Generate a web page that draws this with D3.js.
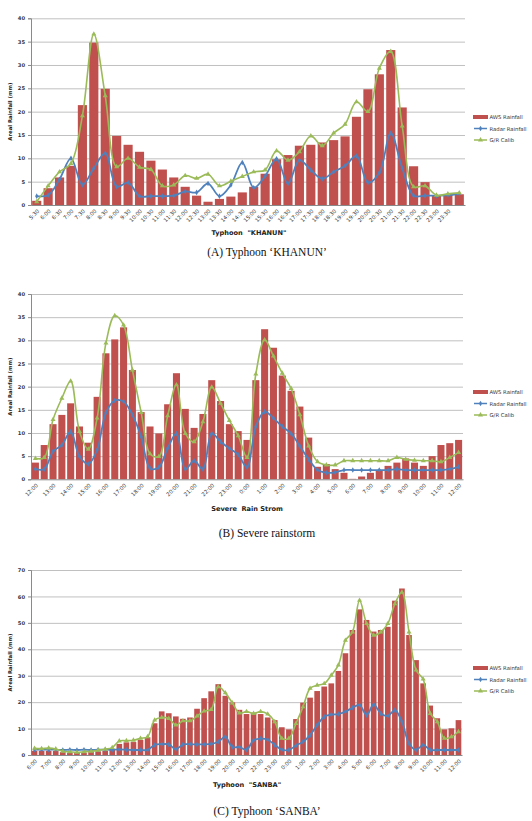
<!DOCTYPE html>
<html>
<head>
<meta charset="utf-8">
<script src="https://cdn.jsdelivr.net/npm/d3@7"></script>
<style>
  body { margin: 0; background: #fff; overflow: hidden; }
  svg { display: block; }
</style>
</head>
<body>
<div id="container"></div>
<script>
/**
 * DATA
 * */
const khanunTimes = ["5:30","6:00","6:30","7:00","7:30","8:00","8:30","9:00","9:30","10:00","10:30","11:00","11:30","12:00","12:30","13:00","13:30","14:00","14:30","15:00","15:30","16:00","16:30","17:00","17:30","18:00","18:30","19:00","19:30","20:00","20:30","21:00","21:30","22:00","22:30","23:00","23:30",""]
const khanunAws = [0.9,3.6,5.9,8.4,21.4,34.8,24.9,14.8,12.9,11.4,9.5,7.6,5.9,3.9,2.0,0.7,1.3,1.8,2.7,3.9,6.7,9.8,10.7,12.7,12.9,13.4,13.9,14.7,18.9,24.8,28.0,33.2,20.9,8.3,4.9,2.1,2.3,2.3]
const khanunRadar = [1.9,2.1,5.5,10.0,4.3,7.9,11.1,3.9,4.8,1.9,1.9,1.9,2.0,2.9,2.7,4.6,1.9,4.3,9.1,3.7,6.2,9.9,4.6,9.6,7.5,5.6,7.1,8.4,10.5,4.8,6.9,15.4,7.9,2.0,2.0,2.0,2.1,2.4]
const khanunGR = [0.7,4.1,7.1,8.9,19.1,36.6,23.4,8.2,10.0,8.1,7.6,4.1,4.3,6.3,5.7,6.6,4.1,5.1,6.1,7.1,7.5,11.6,9.6,11.4,14.8,12.7,15.4,17.3,22.1,20.0,29.3,32.9,16.9,3.9,4.1,2.1,2.4,2.6]

const stormTimes = ["12:00","12:30","13:00","13:30","14:00","14:30","15:00","15:30","16:00","16:30","17:00","17:30","18:00","18:30","19:00","19:30","20:00","20:30","21:00","21:30","22:00","22:30","23:00","23:30","0:00","0:30","1:00","1:30","2:00","2:30","3:00","3:30","4:00","4:30","5:00","5:30","6:00","6:30","7:00","7:30","8:00","8:30","9:00","9:30","10:00","10:30","11:00","11:30","12:00"]
const stormAws = [3.6,7.4,11.9,13.9,16.4,11.4,7.9,17.8,27.2,30.2,32.8,23.6,14.5,11.4,9.9,16.2,22.9,15.2,11.1,14.1,21.4,16.9,11.9,10.4,8.5,21.4,32.4,28.4,22.4,19.1,15.7,9.0,2.7,3.3,2.2,1.4,0.1,0.6,1.4,2.0,2.9,3.6,4.5,3.6,2.9,5.0,7.4,7.8,8.5]
const stormRadar = [2.2,2.2,6.0,7.4,10.3,4.9,3.3,6.3,14.4,17.0,16.8,13.9,9.2,2.4,2.6,6.7,9.9,2.2,4.0,2.2,9.9,8.1,6.7,5.3,2.6,11.4,14.6,13.2,11.4,9.9,7.1,4.3,2.0,1.4,1.5,2.0,2.0,2.0,2.0,2.0,2.0,2.2,2.0,2.0,2.0,2.0,2.0,2.2,2.7]
const stormGR = [4.5,4.7,12.9,17.5,21.2,10.3,6.5,13.2,29.4,35.3,33.3,23.6,14.4,5.5,4.9,13.7,20.4,9.9,8.1,12.4,19.9,16.4,12.7,9.4,4.7,22.7,30.1,26.6,22.9,19.6,13.9,7.2,3.8,3.1,3.1,4.0,4.0,4.0,4.0,4.0,4.0,4.7,4.3,4.1,4.0,4.0,3.8,4.7,5.8]

const sanbaTimes = ["6:00","6:30","7:00","7:30","8:00","8:30","9:00","9:30","10:00","10:30","11:00","11:30","12:00","12:30","13:00","13:30","14:00","14:30","15:00","15:30","16:00","16:30","17:00","17:30","18:00","18:30","19:00","19:30","20:00","20:30","21:00","21:30","22:00","22:30","23:00","23:30","0:00","0:30","1:00","1:30","2:00","2:30","3:00","3:30","4:00","4:30","5:00","5:30","6:00","6:30","7:00","7:30","8:00","8:30","9:00","9:30","10:00","10:30","11:00","11:30","12:00"]
const sanbaAws = [1.6,1.6,1.6,1.5,1.1,0.9,0.9,0.9,1.1,1.4,1.6,2.3,4.2,4.8,4.9,5.7,6.7,12.0,16.5,15.8,14.6,13.7,14.2,17.5,21.5,24.1,26.8,22.4,19.9,17.1,15.5,16.0,15.5,14.2,13.2,10.5,9.7,13.6,19.8,21.7,24.2,25.9,27.1,31.8,38.5,47.3,55.1,51.1,46.7,47.3,48.5,58.4,63.0,45.4,35.9,27.1,18.7,13.9,9.7,10.1,13.2]
const sanbaRadar = [2.0,2.0,2.0,2.0,1.9,2.0,1.9,2.0,1.9,2.0,2.0,2.0,2.1,2.0,1.9,1.9,1.9,3.8,4.1,4.0,2.2,4.0,4.1,4.0,4.0,4.2,5.0,6.9,3.0,3.0,2.0,5.6,6.2,5.8,3.8,2.0,1.9,3.6,5.0,7.5,11.3,14.5,15.3,15.5,16.4,17.9,18.9,15.1,19.1,15.7,14.8,17.0,12.6,4.4,1.9,3.8,1.9,1.9,1.9,1.9,1.9]
const sanbaGR = [2.5,2.4,2.6,2.3,1.4,1.2,1.0,1.2,1.4,1.8,2.2,2.8,5.3,5.4,5.6,6.3,6.9,13.2,14.2,13.8,11.3,12.9,12.9,14.7,16.6,17.2,25.8,23.5,19.7,15.9,16.4,15.7,16.4,15.5,12.6,6.3,6.3,11.9,18.2,25.2,26.4,27.0,30.2,34.0,43.4,46.5,58.5,49.7,45.3,46.5,49.7,57.2,61.6,46.5,32.1,28.7,15.7,12.6,6.3,6.9,8.8]

const legendNames = ["AWS Rainfall", "Radar Rainfall", "G/R Calib"]

/**
 * CONSTANTS
 * */
const W = 532, H = 821
const red = "#C0504D", blue = "#4F81BD", green = "#9BBB59"

const panels = [
  { times: khanunTimes, aws: khanunAws, radar: khanunRadar, gr: khanunGR, showAll: true,
    top: 18.3, bottom: 205, left: 31, right: 465, yMax: 40, yStep: 5,
    legendY: 117, xTitle: 'Typhoon  "KHANUN"', xTitleY: 234.5, xTitleX: 249,
    caption: "(A) Typhoon \u2018KHANUN\u2019", captionY: 256 },
  { times: stormTimes, aws: stormAws, radar: stormRadar, gr: stormGR, showAll: false,
    top: 294, bottom: 479.3, left: 31, right: 463, yMax: 40, yStep: 5,
    legendY: 392, xTitle: "Severe  Rain Strom", xTitleY: 510.5, xTitleX: 247,
    caption: "(B) Severe rainstorm", captionY: 537 },
  { times: sanbaTimes, aws: sanbaAws, radar: sanbaRadar, gr: sanbaGR, showAll: false,
    top: 570, bottom: 755, left: 31, right: 462, yMax: 70, yStep: 10,
    legendY: 668, xTitle: 'Typhoon  "SANBA"', xTitleY: 786.5, xTitleX: 247,
    caption: "(C) Typhoon \u2018SANBA\u2019", captionY: 815 }
]

const svg = d3.select("#container").append("svg")
  .attr("width", W).attr("height", H)

panels.forEach(drawPanel)

function drawPanel(p) {
  const g = svg.append("g")
  const n = p.times.length

  // Scales
  const x = d3.scaleBand()
    .domain(d3.range(n))
    .range([p.left, p.right])
    .paddingInner(0.2).paddingOuter(0.1)
  const y = d3.scaleLinear()
    .domain([0, p.yMax])
    .range([p.bottom, p.top])

  const cx = i => x(i) + x.bandwidth() / 2

  // gridlines
  g.append("g")
    .attr("transform", `translate(${p.left},0)`)
    .call(d3.axisLeft(y).tickValues(d3.range(p.yStep, p.yMax + 0.01, p.yStep))
      .tickSize(-(p.right - p.left)).tickFormat(""))
    .call(a => a.select(".domain").remove())
    .call(a => a.selectAll("line").attr("stroke", "#c0c0c0").attr("stroke-width", 1))

  // y axis
  g.append("g")
    .attr("transform", `translate(${p.left},0)`)
    .call(d3.axisLeft(y).tickValues(d3.range(0, p.yMax + 0.01, p.yStep)).tickSize(3).tickPadding(3))
    .call(a => a.select(".domain").attr("stroke", "#8a8a8a"))
    .call(a => a.selectAll("line").attr("stroke", "#8a8a8a"))
    .call(a => a.selectAll("text")
      .attr("font-family", "DejaVu Sans").attr("font-weight", "bold")
      .attr("font-size", 5.2).attr("fill", "#333"))

  // bars
  g.append("g").selectAll("rect")
    .data(p.aws)
    .join("rect")
    .attr("x", (d, i) => x(i))
    .attr("width", x.bandwidth())
    .attr("y", d => y(d))
    .attr("height", d => y(0) - y(d))
    .attr("fill", red)

  // x axis
  const xAxis = g.append("g")
    .attr("transform", `translate(0,${p.bottom})`)
    .call(d3.axisBottom(x).tickSize(0).tickFormat(i => {
      const t = p.times[i]
      return (p.showAll || t.endsWith(":00")) ? t : ""
    }))
  xAxis.select(".domain").attr("stroke", "#8a8a8a")
  xAxis.selectAll("text")
    .attr("font-family", "DejaVu Sans").attr("font-size", 5.4).attr("fill", "#333")
    .attr("text-anchor", "end")
    .attr("dy", 0).attr("y", 0)
    .attr("transform", "translate(3,6.5) rotate(-45)")

  // lines
  const line = d3.line()
    .x((d, i) => cx(i))
    .y(d => y(d))
    .curve(d3.curveCatmullRom.alpha(0.5))

  g.append("path").datum(p.radar)
    .attr("d", line).attr("fill", "none")
    .attr("stroke", blue).attr("stroke-width", 1.8)
  g.append("g").selectAll("path")
    .data(p.radar).join("path")
    .attr("transform", (d, i) => `translate(${cx(i)},${y(d)})`)
    .attr("d", d3.symbol(d3.symbolDiamond, 9))
    .attr("fill", blue)

  g.append("path").datum(p.gr)
    .attr("d", line).attr("fill", "none")
    .attr("stroke", green).attr("stroke-width", 1.6)
  g.append("g").selectAll("path")
    .data(p.gr).join("path")
    .attr("transform", (d, i) => `translate(${cx(i)},${y(d)})`)
    .attr("d", d3.symbol(d3.symbolTriangle, 11))
    .attr("fill", green)

  // y title
  g.append("text")
    .attr("transform", `translate(11.5,${(p.top + p.bottom) / 2}) rotate(-90)`)
    .attr("text-anchor", "middle")
    .attr("font-family", "DejaVu Sans").attr("font-weight", "bold")
    .attr("font-size", 5.3).attr("fill", "#222")
    .text("Areal Rainfall (mm)")

  // x title
  g.append("text")
    .attr("x", p.xTitleX).attr("y", p.xTitleY)
    .attr("text-anchor", "middle")
    .attr("font-family", "DejaVu Sans").attr("font-weight", "bold")
    .attr("font-size", 6.6).attr("fill", "#222")
    .attr("xml:space", "preserve")
    .text(p.xTitle)

  // legend (nudged left so the labels stay inside the page)
  const lg = g.append("g").attr("transform", `translate(473,${p.legendY})`)
  lg.append("rect").attr("x", 0).attr("y", -2).attr("width", 15).attr("height", 4).attr("fill", red)
  lg.append("line").attr("x1", 1).attr("x2", 14).attr("y1", 11.5).attr("y2", 11.5)
    .attr("stroke", blue).attr("stroke-width", 1.5)
  lg.append("path").attr("transform", "translate(7.5,11.5)")
    .attr("d", d3.symbol(d3.symbolDiamond, 9)).attr("fill", blue)
  lg.append("line").attr("x1", 1).attr("x2", 14).attr("y1", 23).attr("y2", 23)
    .attr("stroke", green).attr("stroke-width", 1.5)
  lg.append("path").attr("transform", "translate(7.5,23)")
    .attr("d", d3.symbol(d3.symbolTriangle, 11)).attr("fill", green)
  lg.selectAll("text.lab")
    .data(legendNames).join("text")
    .attr("class", "lab")
    .attr("x", 16.5).attr("y", (d, i) => i * 11.5 + 2)
    .attr("font-family", "DejaVu Sans").attr("font-size", 5.3).attr("fill", "#333")
    .text(d => d)

  // caption
  svg.append("text")
    .attr("x", 267).attr("y", p.captionY)
    .attr("text-anchor", "middle")
    .attr("font-family", "Liberation Serif").attr("font-size", 11.5).attr("fill", "#111")
    .text(p.caption)
}
</script>
</body>
</html>
